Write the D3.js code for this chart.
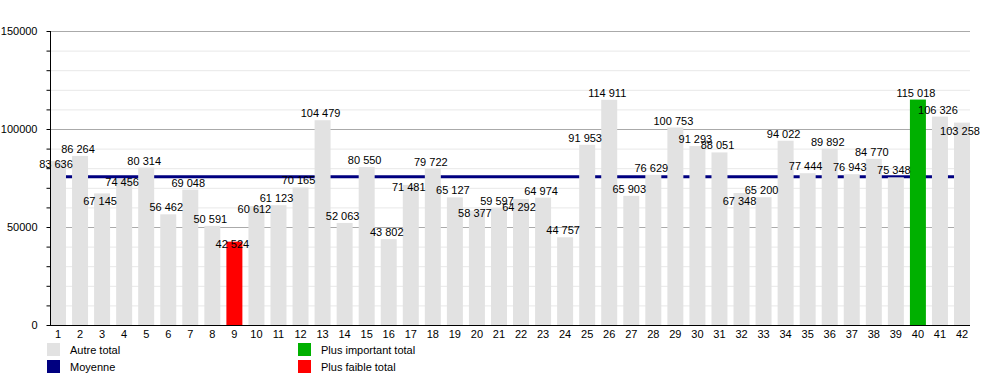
<!DOCTYPE html>
<html>
<head>
<meta charset="utf-8">
<script src="https://d3js.org/d3.v7.min.js"></script>
<style>
    body { margin: 0; background: #fff; }
    svg text { font-family: "Liberation Sans", Arial, sans-serif; font-size: 11px; fill: #000; }
</style>
</head>
<body>
<svg id="drawing_region"></svg>
<script>
// one total per category (1 .. 42)
const categories = d3.range(1, 43).map(String);
const totals = [83636, 86264, 67145, 74456, 80314, 56462, 69048, 50591, 42524, 60612,
                61123, 70165, 104479, 52063, 80550, 43802, 71481, 79722, 65127, 58377,
                59597, 64292, 64974, 44757, 91953, 114911, 65903, 76629, 100753, 91293,
                88051, 67348, 65200, 94022, 77444, 89892, 76943, 84770, 75348, 115018,
                106326, 103258];
// how the value label sits: 0 above the bar, 1 just under the top, 2 further down
const labelLevel = [1,0,2,1,0,0,0,0,1,1, 0,0,0,0,0,0,1,0,0,1, 0,2,0,0,0,0,0,0,0,0,
                    0,2,0,0,0,0,0,0,0,0, 0,2];
const yTicks = [0, 50000, 100000, 150000];
const legendItems = [
    {label: "Autre total", color: "#e2e2e2"},
    {label: "Moyenne", color: "#000080"},
    {label: "Plus important total", color: "#00b000"},
    {label: "Plus faible total", color: "#ff0000"}
];

class BarChart {
    constructor( config ) {
        this.config = config;
        this.init();
    }

    init() {
        let self = this;
        self.svg = d3.select(self.config.parent)
            .attr('width', self.config.width)
            .attr('height', self.config.height);

        self.xscale = d3.scaleBand()
            .domain(categories)
            .range([50, 970])
            .paddingInner(0.275)
            .paddingOuter(0);

        self.yscale = d3.scaleLinear()
            .domain([0, 150000])
            .range([325, 31]);

        self.fmt = d3.formatLocale({decimal: ",", thousands: " ", grouping: [3], currency: ["", ""]}).format(",d");
    }

    render() {
        let self = this;
        const x = self.xscale, y = self.yscale;
        const maxV = d3.max(totals), minV = d3.min(totals);
        const mean = d3.mean(totals);

        // grid lines, minor then major
        const grid = self.svg.append('g');
        grid.selectAll('line.minor')
            .data(d3.range(10000, 150001, 10000).filter(v => v % 50000 != 0))
            .join('line')
            .attr('x1', 50).attr('x2', 970)
            .attr('y1', d => y(d) + 0.5).attr('y2', d => y(d) + 0.5)
            .attr('stroke', '#e8e8e8');
        grid.selectAll('line.major')
            .data(yTicks.slice(1))
            .join('line')
            .attr('x1', 50).attr('x2', 970)
            .attr('y1', d => y(d) + 0.5).attr('y2', d => y(d) + 0.5)
            .attr('stroke', '#aaaaaa');

        // mean line sits behind the bars
        self.svg.append('line')
            .attr('x1', 50).attr('x2', 970)
            .attr('y1', y(mean)).attr('y2', y(mean))
            .attr('stroke', '#000080')
            .attr('stroke-width', 3);

        self.svg.selectAll('rect.bar')
            .data(totals)
            .join('rect')
            .attr('class', 'bar')
            .attr('x', (d, i) => x(categories[i]))
            .attr('y', d => y(d))
            .attr('width', x.bandwidth())
            .attr('height', d => y(0) - y(d))
            .attr('fill', d => d == maxV ? '#00b000' : d == minV ? '#ff0000' : '#e2e2e2');

        // axes
        const yAxis = d3.axisLeft(y)
            .tickValues(d3.range(0, 150001, 10000))
            .tickSize(4)
            .tickFormat(d => yTicks.includes(d) ? d : '');
        const ga = self.svg.append('g')
            .attr('transform', 'translate(50.5,0)')
            .call(yAxis);
        ga.select('.domain').attr('stroke', '#000').attr('d', `M0,${y(150000)}V${y(0)}`);
        ga.selectAll('.tick line').attr('stroke', '#000');
        ga.selectAll('.tick text')
            .attr('x', -13)
            .style('font-family', '"Liberation Sans", Arial, sans-serif')
            .style('font-size', '11px');

        self.svg.append('line')
            .attr('x1', 50).attr('x2', 970)
            .attr('y1', y(0) + 0.5).attr('y2', y(0) + 0.5)
            .attr('stroke', '#000');

        self.svg.selectAll('text.xlab')
            .data(categories)
            .join('text')
            .attr('class', 'xlab')
            .attr('x', d => x(d) + x.bandwidth() / 2)
            .attr('y', 338)
            .attr('text-anchor', 'middle')
            .text(d => d);

        // value labels
        const dy = [-7, 2.5, 8];
        self.svg.selectAll('text.val')
            .data(totals)
            .join('text')
            .attr('class', 'val')
            .attr('x', (d, i) => x(categories[i]) + x.bandwidth() / 2 - 2)
            .attr('y', (d, i) => y(d) + dy[labelLevel[i]] + 4)
            .attr('text-anchor', 'middle')
            .text(d => self.fmt(d));

        // legend
        const lg = self.svg.selectAll('g.legend')
            .data(legendItems)
            .join('g')
            .attr('transform', (d, i) => `translate(${i < 2 ? 47 : 298},${343 + (i % 2) * 17})`);
        lg.append('rect')
            .attr('width', 13).attr('height', 13)
            .attr('fill', d => d.color);
        lg.append('text')
            .attr('x', 23).attr('y', 11)
            .text(d => d.label);
    }
}

const chart = new BarChart({ parent: '#drawing_region', width: 1000, height: 375 });
chart.render();
</script>
</body>
</html>
